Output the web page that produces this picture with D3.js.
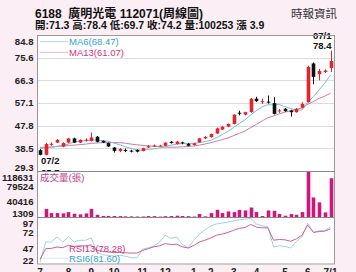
<!DOCTYPE html>
<html>
<head>
<meta charset="utf-8">
<script src="https://cdn.jsdelivr.net/npm/d3@7"></script>
<style>
  body { margin: 0; background: #fbeef4; }
  svg { display: block; }
  text { font-family: "Liberation Sans", "Noto Sans CJK TC", sans-serif; }
</style>
</head>
<body>
<div id="chart"></div>
<script>
// weekly candles, 2022/07 - 2023/07/01
const opens  = [37.8,35.9,40.1,40.9,39.3,40.9,42.6,40.9,41.9,41.6,43.3,41.6,40.7,38.9,37.5,37.9,37.6,37.9,37.5,38.9,39.5,39.6,39.6,41.2,40.3,41.0,
                40.4,39.9,41.0,42.6,43.1,44.6,46.2,47.4,48.5,53.1,52.3,53.3,58.8,57.7,57.6,57.0,53.8,54.7,54.0,53.3,55.1,57.4,73.2,68.8,69.7,71.3];
const highs  = [38.2,40.8,41.0,42.3,41.0,42.8,42.9,42.2,42.6,45.0,43.6,41.8,40.9,39.1,38.7,38.5,38.0,38.1,38.8,39.9,40.1,40.0,41.0,41.5,41.6,41.2,
                40.7,40.8,42.8,43.5,44.6,47.0,47.6,48.7,52.5,53.9,53.5,59.0,59.6,58.8,60.1,59.4,54.6,55.0,54.3,55.0,57.4,72.3,73.6,71.0,70.8,78.4];
const lows   = [35.7,35.7,39.6,40.7,39.0,40.6,40.7,40.7,41.3,41.3,41.0,40.7,39.1,36.8,37.0,37.0,36.9,36.9,37.3,38.7,39.2,39.3,39.4,40.5,40.1,40.2,
                39.4,39.7,40.8,42.3,42.9,44.4,46.0,47.2,48.3,52.0,52.0,53.1,57.5,56.6,56.8,52.4,53.0,53.5,51.5,53.1,54.9,57.2,64.7,66.3,69.3,69.7];
const closes = [35.9,40.3,40.4,42.0,40.7,42.6,40.9,42.0,42.1,43.0,41.2,40.9,39.3,37.5,38.3,37.7,37.4,37.2,38.6,39.4,39.7,39.7,40.9,40.7,41.3,40.6,
                39.6,40.6,42.6,43.2,44.4,46.7,47.4,48.5,52.3,53.0,53.3,58.8,57.8,57.8,57.4,52.6,54.0,53.7,53.3,54.7,56.7,71.8,67.7,70.1,70.3,74.2];
const ma6  = [38.5,38.7,38.9,39.4,39.7,40.3,41.15,41.43,41.72,41.88,41.97,41.68,41.42,40.67,40.03,39.15,38.52,37.9,37.78,38.1,38.33,38.67,39.25,39.83,40.28,40.48,
              40.47,40.62,40.9,41.32,41.83,42.85,44.15,45.47,47.08,48.72,50.2,52.22,53.95,55.5,56.35,56.28,56.4,55.55,54.8,54.28,54.17,57.37,59.65,62.38,65.22,68.47];
const ma13 = [38.95,39.03,39.12,39.34,39.45,39.72,39.85,40.06,40.28,40.58,40.73,40.86,40.87,40.99,40.84,40.63,40.28,40.01,39.7,39.58,39.41,39.22,39.06,39.02,39.05,39.15,
              39.32,39.49,39.87,40.32,40.87,41.49,42.11,42.78,43.75,44.68,45.65,47.0,48.32,49.72,51.02,51.78,52.62,53.33,53.84,54.4,55.03,56.53,57.66,58.95,59.84,61.07];
const volumes = [1309,22000,11300,11300,10500,13800,9500,8000,10500,22000,7000,4000,4000,3800,3500,3000,2900,2500,2600,3600,3500,2400,3400,3700,4600,3800,
                 3500,2500,8800,3000,11300,19500,11300,15500,13800,19500,18000,25500,13800,3800,18000,17000,8800,4600,8800,7000,13800,118631,51200,38700,13000,100253];
const rsi6  = [25.7,57.6,57.6,65.6,57.6,65.6,57.6,60.3,60.3,64.0,41.6,37.5,36.4,35.3,36.4,35.0,32.7,32.7,46.0,48.6,51.2,57.6,68.3,63.0,65.6,53.4,
               48.6,60.3,70.0,77.0,83.0,86.0,87.5,89.0,91.0,92.5,93.5,94.9,86.0,83.0,82.0,49.6,51.5,50.5,48.0,58.0,66.0,87.0,73.0,75.0,75.5,81.6];
const rsi13 = [30.0,47.0,47.5,49.6,48.5,52.3,50.5,51.5,51.5,53.0,44.3,42.7,41.6,40.7,41.0,40.5,40.0,40.0,44.3,47.0,50.0,51.5,55.0,53.5,54.0,50.0,
               48.0,52.0,57.6,60.5,64.0,68.3,70.0,72.6,76.0,79.0,80.5,85.3,81.0,80.0,80.0,60.3,61.5,61.0,58.7,62.5,68.3,84.2,72.6,74.0,74.7,78.28];

const priceTicks = [84.8, 75.6, 66.3, 57.1, 47.8, 38.5, 29.3];
const volTicks = [118631, 79524, 40416, 1309];
const rsiTicks = [97, 72, 47, 22];
const monthIdx = [0, 5, 9, 13, 18, 22, 27, 30, 34, 38, 43, 47, 51];
const monthLabels = ["7", "8", "9", "10", "11", "12", "1", "2", "3", "4", "5", "6", "7/1"];

const W = 356, H = 272;
const L = 37, R = 335;
const pTop = 35, pBot = 171, vBot = 217, rBot = 264.5;

const svg = d3.select("#chart").append("svg").attr("width", W).attr("height", H);

const x = d3.scaleLinear().domain([0, closes.length - 1]).range([40, 330.5]);
const yP = d3.scaleLinear().domain([29.3, 84.8]).range([pBot, pTop]);
const yV = d3.scaleLinear().domain([1309, 118631]).range([vBot, pBot]);
const yR = d3.scaleLinear().domain([22, 97]).range([rBot, vBot]);

const RED = "#e0262c", BLACK = "#111", MAG = "#d0167a";
const bw = 3.6;

// header
const head = svg.append("g").attr("font-weight", "bold").attr("fill", "#111");
head.append("text").attr("x", 35).attr("y", 17.5).attr("font-size", 12)
  .style("white-space", "pre").text("6188  廣明光電 112071(周線圖)");
head.append("text").attr("x", 35).attr("y", 29).attr("font-size", 10.5)
  .text("開:71.3 高:78.4 低:69.7 收:74.2 量:100253 漲 3.9");
svg.append("text").attr("x", 337).attr("y", 18).attr("text-anchor", "end")
  .attr("font-size", 11.5).attr("fill", "#333").text("時報資訊");

// price panel
svg.append("rect").attr("x", L).attr("y", pTop).attr("width", R - L).attr("height", rBot - pTop)
  .attr("fill", "#fff");

svg.append("g").selectAll("line").data(priceTicks.slice(1, -1)).join("line")
  .attr("x1", L).attr("x2", R)
  .attr("y1", d => Math.round(yP(d)) + 0.5).attr("y2", d => Math.round(yP(d)) + 0.5)
  .attr("stroke", "#dcdcdc");

const lineP = data => d3.line().x((d, i) => x(i)).y(d => yP(d))(data);
svg.append("path").attr("d", lineP(ma13)).attr("fill", "none").attr("stroke", "#d07aa8").attr("stroke-width", 1);
svg.append("path").attr("d", lineP(ma6)).attr("fill", "none").attr("stroke", "#72c2d4").attr("stroke-width", 1);

const candles = svg.append("g").selectAll("g").data(closes).join("g")
  .attr("fill", (c, i) => c >= opens[i] ? RED : BLACK)
  .attr("stroke", (c, i) => c >= opens[i] ? RED : BLACK);
candles.append("line")
  .attr("x1", (c, i) => Math.round(x(i)) + 0.5).attr("x2", (c, i) => Math.round(x(i)) + 0.5)
  .attr("y1", (c, i) => yP(highs[i])).attr("y2", (c, i) => yP(lows[i]))
  .attr("stroke-width", 1);
candles.append("rect")
  .attr("x", (c, i) => Math.round(x(i)) + 0.5 - bw / 2).attr("width", bw)
  .attr("y", (c, i) => yP(Math.max(c, opens[i])))
  .attr("height", (c, i) => Math.max(1, Math.abs(yP(c) - yP(opens[i]))))
  .attr("stroke", "none");

// legends MA
const leg = [["MA6(68.47)", "#2ea6c6", "#a9dbe6", 41.7], ["MA13(61.07)", "#d42f7e", "#e6b3cc", 52.3]];
leg.forEach(([t, c, lc, y]) => {
  svg.append("line").attr("x1", 40).attr("x2", 68).attr("y1", y).attr("y2", y).attr("stroke", lc);
  svg.append("text").attr("x", 69).attr("y", y + 3.4).attr("font-size", 9.5).attr("fill", c).text(t);
});

// high / low notes
const last = closes.length - 1;
const note = svg.append("g").attr("font-size", 9.5).attr("font-weight", "bold").attr("fill", "#111");
note.append("text").attr("x", x(last) + 1).attr("y", yP(highs[last]) - 12).attr("text-anchor", "end").text("07/1");
note.append("text").attr("x", x(last) + 1).attr("y", yP(highs[last]) - 2).attr("text-anchor", "end").text("78.4");
note.append("text").attr("x", x(0) + 1).attr("y", yP(lows[0]) + 9).text("07/2");
note.append("text").attr("x", x(0) + 1).attr("y", yP(lows[0]) + 20.5).text("35.7");

// volume panel
svg.append("rect").attr("x", L).attr("y", pBot).attr("width", R - L).attr("height", rBot - pBot).attr("fill", "#fff");
svg.append("g").selectAll("rect").data(volumes).join("rect")
  .attr("x", (v, i) => Math.round(x(i)) + 0.5 - bw / 2).attr("width", bw)
  .attr("y", v => yV(v)).attr("height", v => vBot - yV(v))
  .attr("fill", MAG);
svg.append("text").attr("x", 40).attr("y", 180.5).attr("font-size", 9.5).attr("fill", "#c43a8c").text("成交量(張)");

// rsi panel
const lineR = data => d3.line().x((d, i) => x(i)).y(d => yR(d))(data);
svg.append("line").attr("x1", 40).attr("x2", 68).attr("y1", 258.3).attr("y2", 258.3).attr("stroke", "#d8e8ec");
svg.append("path").attr("d", lineR(rsi6)).attr("fill", "none").attr("stroke", "#9fd3df").attr("stroke-width", 1);
svg.append("path").attr("d", lineR(rsi13)).attr("fill", "none").attr("stroke", "#d0609a").attr("stroke-width", 1);
svg.append("text").attr("x", 69).attr("y", 251.7).attr("font-size", 9.5).attr("fill", "#d42f7e").text("RSI13(78.28)");
svg.append("text").attr("x", 69).attr("y", 261.7).attr("font-size", 9.5).attr("fill", "#2ea6c6").text("RSI6(81.60)");

// frames
const frame = svg.append("g").attr("stroke", "#999").attr("fill", "none");
frame.append("rect").attr("x", L + 0.5).attr("y", pTop + 0.5).attr("width", R - L - 1).attr("height", rBot - pTop - 1);
frame.append("line").attr("x1", L).attr("x2", R).attr("y1", pBot + 0.5).attr("y2", pBot + 0.5).attr("stroke", "#888");
frame.append("line").attr("x1", L).attr("x2", R).attr("y1", vBot + 0.5).attr("y2", vBot + 0.5).attr("stroke", "#888");

// axis labels
const axisLabels = (ticks, scale, top, bot, fmt) => {
  svg.append("g").attr("font-size", 9.6).attr("font-weight", "bold").attr("fill", "#222")
    .attr("text-anchor", "end")
    .selectAll("text").data(ticks).join("text")
    .attr("x", 33.5)
    .attr("y", d => Math.min(bot - 0.5, Math.max(top + 10, scale(d) + 3.6)))
    .text(fmt);
};
axisLabels(priceTicks, yP, pTop, pBot, d => d.toFixed(1));
axisLabels(volTicks, yV, pBot, vBot, d => d);
axisLabels(rsiTicks, yR, vBot, rBot, d => d);

svg.append("g").attr("font-size", 10).attr("font-weight", "bold").attr("fill", "#222")
  .attr("text-anchor", "middle")
  .selectAll("text").data(monthIdx).join("text")
  .attr("x", d => x(d)).attr("y", 275.5)
  .text((d, i) => monthLabels[i]);
</script>
</body>
</html>
